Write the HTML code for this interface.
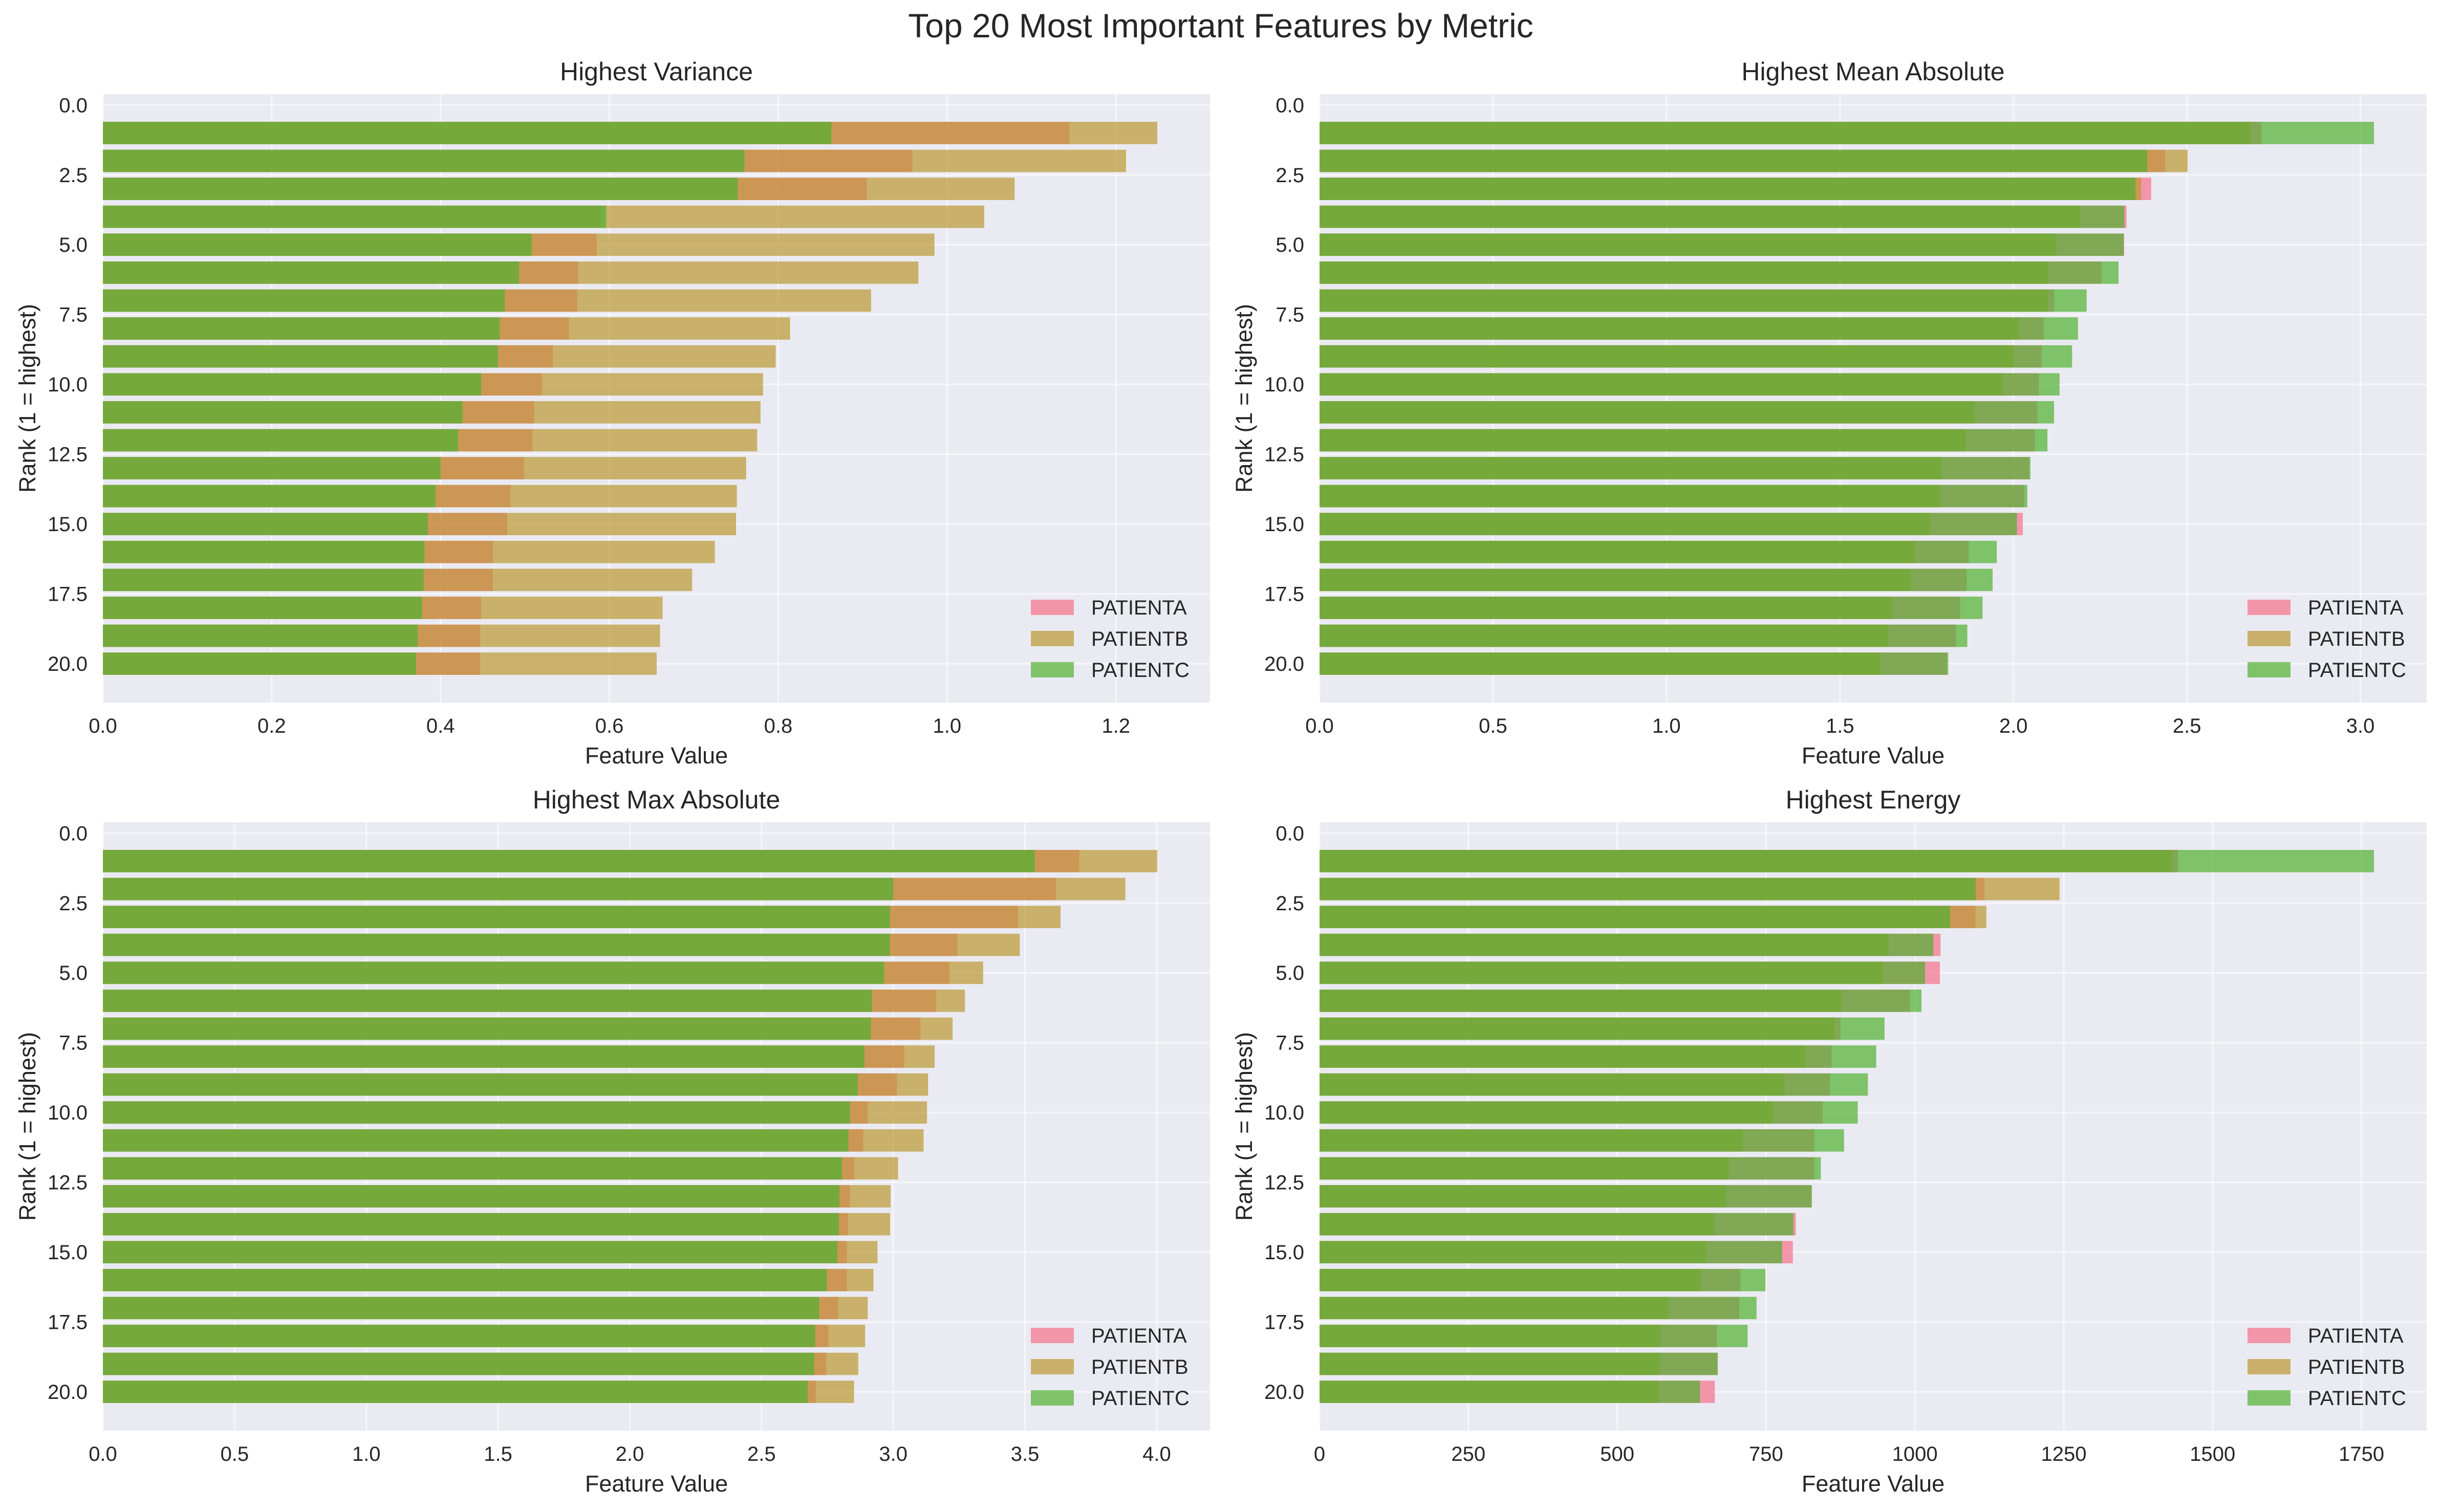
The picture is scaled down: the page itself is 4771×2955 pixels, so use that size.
<!DOCTYPE html>
<html><head><meta charset="utf-8"><style>
html,body{margin:0;padding:0;background:#fff;}
svg{display:block;font-family:"Liberation Sans",Arial,sans-serif;}
</style></head><body>
<svg id="fig" xmlns="http://www.w3.org/2000/svg" width="4771" height="2955" viewBox="0 0 4771 2955">
<rect width="4771" height="2955" fill="#ffffff"/>
<text x="2385" y="73" font-size="66" text-anchor="middle" fill="#262626">Top 20 Most Important Features by Metric</text>
</svg>
<script>
// ---- data ----
const ranks = [1,2,3,4,5,6,7,8,9,10,11,12,13,14,15,16,17,18,19,20];
const seriesNames = ["PATIENTA","PATIENTB","PATIENTC"];
const varianceA = [1.145,0.959,0.905,0.590,0.585,0.563,0.562,0.552,0.533,0.520,0.511,0.509,0.499,0.483,0.479,0.462,0.462,0.448,0.447,0.447];
const varianceB = [1.249,1.212,1.080,1.044,0.985,0.966,0.910,0.814,0.797,0.782,0.779,0.775,0.762,0.751,0.750,0.725,0.698,0.663,0.660,0.656];
const varianceC = [0.863,0.760,0.752,0.596,0.508,0.493,0.476,0.470,0.468,0.448,0.426,0.421,0.400,0.394,0.385,0.381,0.380,0.378,0.373,0.371];
const meanAbsA = [2.715,2.437,2.397,2.326,2.319,2.254,2.117,2.087,2.081,2.073,2.069,2.062,2.045,2.031,2.027,1.871,1.865,1.846,1.834,1.808];
const meanAbsB = [2.682,2.502,2.368,2.193,2.124,2.099,2.099,2.015,2.000,1.969,1.888,1.862,1.792,1.788,1.759,1.716,1.705,1.651,1.638,1.616];
const meanAbsC = [3.039,2.386,2.352,2.320,2.318,2.303,2.211,2.186,2.169,2.133,2.117,2.098,2.049,2.040,2.010,1.952,1.940,1.911,1.867,1.812];
const maxAbsA = [3.706,3.617,3.474,3.244,3.213,3.163,3.103,3.042,3.014,2.903,2.886,2.853,2.836,2.828,2.824,2.824,2.790,2.754,2.746,2.706];
const maxAbsB = [4.002,3.881,3.635,3.480,3.341,3.272,3.225,3.157,3.132,3.128,3.115,3.018,2.990,2.988,2.940,2.925,2.903,2.893,2.867,2.851];
const maxAbsC = [3.537,3.000,2.988,2.987,2.965,2.919,2.915,2.891,2.865,2.836,2.830,2.806,2.796,2.794,2.788,2.748,2.719,2.704,2.700,2.675];
const energyA = [1442,1117,1102,1043,1042,992,875,860,857,845,831,831,826,800,795,707,705,667,668,664];
const energyB = [1432,1243,1120,956,946,877,865,816,781,762,711,688,683,663,649,640,586,573,572,569];
const energyC = [1771,1102,1059,1031,1017,1011,949,935,921,904,881,842,827,796,777,749,734,719,669,639];
const yTicks = [0,2.5,5,7.5,10,12.5,15,17.5,20];
const xTicksVariance = [0,0.2,0.4,0.6,0.8,1.0,1.2];
const xTicksMeanAbs = [0,0.5,1.0,1.5,2.0,2.5,3.0];
const xTicksMaxAbs = [0,0.5,1.0,1.5,2.0,2.5,3.0,3.5,4.0];
const xTicksEnergy = [0,250,500,750,1000,1250,1500,1750];

const colors = ["#f77189","#bb9832","#50b131"];
const NS = "http://www.w3.org/2000/svg";
const svg = document.getElementById("fig");
function el(tag, attrs, parent){const e=document.createElementNS(NS,tag);for(const k in attrs)e.setAttribute(k,attrs[k]);(parent||svg).appendChild(e);return e;}

const panels = [
 {key:"variance", title:"Highest Variance", series:[varianceA,varianceB,varianceC], ticks:xTicksVariance, dec:1, x0:201, x1:2364, y0:184, y1:1373},
 {key:"mean-absolute", title:"Highest Mean Absolute", series:[meanAbsA,meanAbsB,meanAbsC], ticks:xTicksMeanAbs, dec:1, x0:2578, x1:4741, y0:184, y1:1373},
 {key:"max-absolute", title:"Highest Max Absolute", series:[maxAbsA,maxAbsB,maxAbsC], ticks:xTicksMaxAbs, dec:1, x0:201, x1:2364, y0:1607, y1:2796},
 {key:"energy", title:"Highest Energy", series:[energyA,energyB,energyC], ticks:xTicksEnergy, dec:0, x0:2578, x1:4741, y0:1607, y1:2796}
];

panels.forEach(p=>{
  const g = el("g",{});
  
  
  let maxV = 0; p.series.forEach(s=>s.forEach(v=>{if(v>maxV)maxV=v;}));
  const xmax = maxV*1.05;
  const ymin = 0.6-0.99, ymax = 20.4+0.99;
  const xs = v => p.x0 + v/xmax*(p.x1-p.x0);
  const ys = v => p.y0 + (v-ymin)/(ymax-ymin)*(p.y1-p.y0);
  const bg = el("rect",{x:p.x0,y:p.y0,width:p.x1-p.x0,height:p.y1-p.y0,fill:"#eaeaf2"},g);
  
  
  p.ticks.forEach(t=>{
    const x = xs(t);
    const gl = el("line",{x1:x,x2:x,y1:p.y0,y2:p.y1,stroke:"#ffffff","stroke-width":3,"stroke-opacity":0.6},g);
    
    
    const tl = el("text",{x:x,y:p.y1+59,"font-size":40,"text-anchor":"middle",fill:"#262626"},g);
    
    
    tl.textContent = t.toFixed(p.dec);
  });
  yTicks.forEach(t=>{
    const y = ys(t);
    const gl = el("line",{x1:p.x0,x2:p.x1,y1:y,y2:y,stroke:"#ffffff","stroke-width":3,"stroke-opacity":0.6},g);
    
    
    const tl = el("text",{x:p.x0-30,y:y+14,"font-size":40,"text-anchor":"end",fill:"#262626"},g);
    
    
    tl.textContent = t.toFixed(1);
  });
  p.series.forEach((s,si)=>{
    s.forEach((v,i)=>{
      const r = ranks[i];
      const b = el("rect",{x:xs(0),y:ys(r-0.4),width:xs(v)-xs(0),height:ys(r+0.4)-ys(r-0.4),fill:colors[si],"fill-opacity":0.7},g);
      
      
    });
  });
  const tt = el("text",{x:(p.x0+p.x1)/2,y:p.y0-27,"font-size":50,"text-anchor":"middle",fill:"#262626"},g);
  
  
  tt.textContent = p.title;
  const xl = el("text",{x:(p.x0+p.x1)/2,y:p.y1+119,"font-size":45,"text-anchor":"middle",fill:"#262626"},g);
  
  
  xl.textContent = "Feature Value";
  const cy = (p.y0+p.y1)/2, lx = p.x0-132;
  const yl = el("text",{x:lx,y:cy,"font-size":45,"text-anchor":"middle",fill:"#262626",transform:"rotate(-90 "+lx+" "+cy+")"},g);
  
  
  yl.textContent = "Rank (1 = highest)";
  seriesNames.forEach((n,si)=>{
    const ey = p.y1-186+si*61;
    const lg = el("g",{},g);
    
    
    el("rect",{x:p.x1-350,y:ey-15,width:84,height:30,fill:colors[si],"fill-opacity":0.7},lg);
    const lt = el("text",{x:p.x1-232,y:ey+14,"font-size":40,fill:"#262626"},lg);
    lt.textContent = n;
  });
});
</script>
</body></html>
